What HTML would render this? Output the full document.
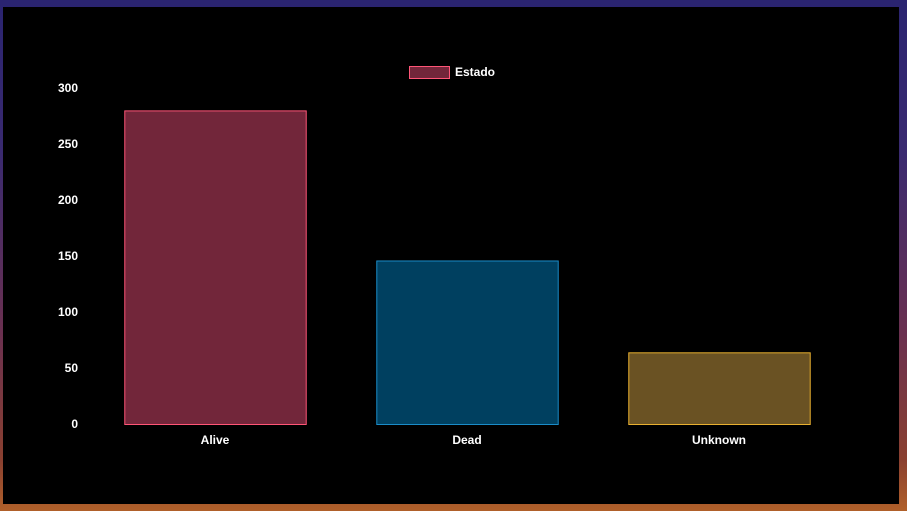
<!DOCTYPE html>
<html><head><meta charset="utf-8"><style>
html,body{margin:0;padding:0;width:907px;height:511px;overflow:hidden;
background:linear-gradient(180deg,#2a2470 0%,#3a2a70 30%,#6a3050 65%,#8a4030 90%,#b0602a 100%);}
#panel{position:absolute;left:3px;top:7px;width:896px;height:497px;background:#000;}
svg{position:absolute;left:0;top:0;}
text{font-family:"Liberation Sans",sans-serif;font-size:12px;font-weight:bold;fill:#fff;}
</style></head><body>
<div id="panel"></div>
<svg id="chart" width="907" height="511"></svg>
<script>
const categories=["Alive","Dead","Unknown"];
const values=[280,146,64];
const yTicks=[0,50,100,150,200,250,300];
const fills=["#72263a","#004060","#6a5223"];
const strokes=["#ff5577","#1a8cc8","#e8b030"];
const svg=document.getElementById('chart');
const NS="http://www.w3.org/2000/svg";
const x0=89,x1=845,yBase=424,yTop=88,yMax=300;
const y=v=>yBase-(v/yMax)*(yBase-yTop);
const band=(x1-x0)/categories.length;
const xc=i=>x0+band*(i+0.5);
function mk(t,a){const e=document.createElementNS(NS,t);for(const k in a)e.setAttribute(k,a[k]);svg.appendChild(e);return e;}
yTicks.forEach(t=>{
 const e=mk('text',{x:78,y:y(t)+4,'text-anchor':'end'});e.textContent=t;
 
 
});
const bw=band*0.72;
categories.forEach((c,i)=>{
 const r=mk('rect',{x:xc(i)-bw/2+0.5,y:y(values[i])+0.5,width:bw,height:yBase-y(values[i]),fill:fills[i],stroke:strokes[i],'stroke-width':1});
 
 
 const t=mk('text',{x:xc(i),y:444,'text-anchor':'middle'});t.textContent=c;
 
 
});
const lb=mk('rect',{x:409.5,y:66.5,width:40,height:12,fill:fills[0],stroke:strokes[0],'stroke-width':1});


const lt=mk('text',{x:455,y:76});lt.textContent="Estado";


</script>
</body></html>
